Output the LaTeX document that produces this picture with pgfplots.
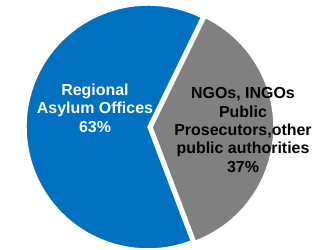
\documentclass[border=0pt]{standalone}
\usepackage{pgfplots}
\pgfplotsset{compat=1.18}
\usepackage{pgfplotstable}
\usepackage{fontspec}
\setmainfont{Liberation Sans}
\definecolor{pieblue}{RGB}{0,112,192}
\definecolor{piegrey}{RGB}{128,128,128}
\pgfplotstableread{
label value
RAO 63
NGO 37
}\piedata
\begin{document}
\begin{tikzpicture}
\pgfplotstablegetelem{0}{value}\of\piedata \let\va\pgfplotsretval
\pgfplotstablegetelem{1}{value}\of\piedata \let\vb\pgfplotsretval
\pgfmathsetmacro\sa{64}
\pgfmathsetmacro\ea{\sa+3.6*\va}
\pgfmathsetmacro\eb{\ea+3.6*\vb}
\pgfmathsetmacro\mb{(\ea+\eb)/2}
\pgfmathsetmacro\gx{148+4*cos(\mb)}
\pgfmathsetmacro\gy{123+4*sin(\mb)}
\begin{axis}[hide axis, x=1bp, y=1bp, xmin=0, xmax=321, ymin=0, ymax=250, clip=true]
\fill[pieblue, draw=white, line width=1.5bp] (axis cs:148,123) -- ++(\sa:122bp) arc[start angle=\sa, end angle=\ea, radius=122bp] -- cycle;
\fill[piegrey, draw=white, line width=1.5bp] (axis cs:\gx,\gy) -- ++(\ea:122bp) arc[start angle=\ea, end angle=\eb, radius=122bp] -- cycle;
\node[white, align=center, inner sep=0pt, font=\bfseries\fontsize{16}{18.5}\selectfont] at (axis cs:95,142) {Regional\\Asylum Offices\\\va\%};
\node[black, align=center, inner sep=0pt, font=\bfseries\fontsize{16}{18.5}\selectfont] at (axis cs:243,120) {NGOs, INGOs\\Public\\Prosecutors,other\\public authorities\\\vb\%};
\end{axis}
\pgfresetboundingbox
\path[use as bounding box] (current axis.south west) rectangle (current axis.north east);
\end{tikzpicture}
\end{document}
